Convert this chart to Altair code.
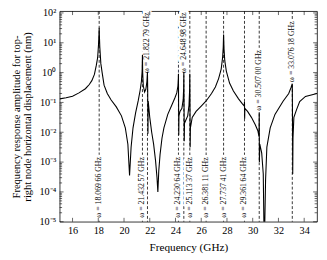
import altair as alt
import pandas as pd

# ---------------- data ----------------
freq = [15.0, 15.5, 16.0, 16.5, 17.0, 17.3, 17.5, 17.7, 17.85, 17.95, 18.02, 18.05, 18.07,
        18.09, 18.12, 18.2, 18.3, 18.45, 18.7, 19.0, 19.4, 19.8, 20.1, 20.3, 20.43, 20.55,
        20.7, 20.9, 21.1, 21.25, 21.35, 21.41, 21.432, 21.45, 21.5, 21.6, 21.7, 21.78, 21.822,
        21.84, 21.86, 21.88, 22.0, 22.15, 22.3, 22.45, 22.56, 22.63, 22.7, 22.8, 22.95, 23.1,
        23.4, 23.7, 23.95, 24.1, 24.19, 24.22, 24.23, 24.24, 24.255, 24.27, 24.35, 24.5, 24.6,
        24.635, 24.649, 24.66, 24.68, 24.7, 24.8, 24.95, 25.05, 25.095, 25.113, 25.125, 25.14,
        25.16, 25.3, 25.6, 26.0, 26.38, 26.8, 27.1, 27.35, 27.55, 27.66, 27.71, 27.737, 27.77,
        27.83, 27.95, 28.2, 28.5, 28.9, 29.2, 29.34, 29.362, 29.375, 29.39, 29.6, 29.9, 30.2,
        30.4, 30.49, 30.507, 30.52, 30.55, 30.7, 30.82, 30.9, 31.0, 31.1, 31.36, 31.73, 32.36,
        32.8, 32.98, 33.076, 33.09, 33.11, 33.13, 33.2, 33.4, 33.65, 34.1, 35.0]
amp_log10 = [-0.88, -0.84, -0.79, -0.68, -0.54, -0.40, -0.27, -0.06, 0.25, 0.5, 0.95, 1.25, 1.50,
             1.2, 0.85, 0.3, 0.0, -0.42, -0.70, -0.92, -1.15, -1.45, -1.85, -2.4, -3.45, -2.5,
             -1.85, -1.35, -0.95, -0.6, -0.3, 0.05, 0.6, 0.0, -0.45, -0.65, -0.55, -0.3, 0.03,
             -0.6, -2.05, -0.95, -1.5, -2.0, -2.4, -2.95, -3.5, -4.0, -3.3, -2.75, -2.2, -1.85,
             -1.4, -1.1, -0.85, -0.68, -0.45, -0.2, -0.04, -0.9, -2.1, -1.45, -1.3, -1.2, -0.9,
             -0.5, 0.03, -0.7, -2.3, -1.7, -1.6, -1.45, -1.1, -0.6, -0.04, -0.9, -2.5,
             -1.85, -1.5, -1.3, -1.12, -0.95, -0.7, -0.48, -0.2, 0.12, 0.5, 0.85, 1.28, 0.8,
             0.4, 0.05, -0.35, -0.62, -0.88, -1.05, -1.12, -0.98, -1.55, -1.2, -1.3, -1.5, -1.75,
             -1.95, -2.15, -1.33, -3.0, -2.4, -2.7, -3.4, -6.0, -3.6, -2.5, -1.85, -1.4, -0.96,
             -0.7, -0.5, -0.37, -1.4, -3.4, -2.2, -1.5, -1.25, -0.97, -0.8, -0.7]

mode_freq = [18.06966, 21.43257, 21.82279, 24.23064, 24.64898, 25.11337, 26.38111,
             27.73741, 29.36164, 30.50700, 33.07618]
mode_text = ["ω = 18.069\u200966 GHz", "ω = 21.432\u200957 GHz", "ω = 21.822\u200979 GHz",
             "ω = 24.230\u200964 GHz", "ω = 24.648\u200998 GHz", "ω = 25.113\u200937 GHz",
             "ω = 26.381\u200911 GHz", "ω = 27.737\u200941 GHz", "ω = 29.361\u200964 GHz",
             "ω = 30.507\u200900 GHz", "ω = 33.076\u200918 GHz"]
label_start_log10 = [-4.87, -4.87, -0.02, -4.87, -0.02, -4.87, -4.87, -4.87, -4.87, -1.28, -0.32]

x_ticks = [16, 18, 20, 22, 24, 26, 28, 30, 32, 34]
y_ticks = [1e-5, 1e-4, 1e-3, 1e-2, 1e-1, 1e0, 1e1, 1e2]
y_minor = [k * 10.0 ** e for e in range(-5, 2) for k in range(2, 10)]

# ---------------- tables ----------------
curve = pd.DataFrame({"f": freq, "a": [10 ** v for v in amp_log10]})
modes = pd.DataFrame({"f": mode_freq, "t": mode_text,
                      "a": [10 ** v for v in label_start_log10]})
ymaj = pd.DataFrame({"a": y_ticks})
ymin = pd.DataFrame({"a": y_minor})
xmaj = pd.DataFrame({"f": x_ticks})

W, H = 264, 216
FONT = "Liberation Serif"

xscale = alt.Scale(domain=[15, 35], nice=False, zero=False)
yscale = alt.Scale(type="log", domain=[1e-5, 10 ** 2.06], nice=False)

sup = {2: "²", 1: "¹", 0: "⁰", -1: "⁻¹", -2: "⁻²", -3: "⁻³", -4: "⁻⁴", -5: "⁻⁵"}
e = "round(log(datum.value)/LN10)"
expr = "''"
for k, s in sup.items():
    expr = f"({e} == {k} ? '{s}' : {expr})"
label_expr = "'10' + " + expr

xaxis = alt.Axis(values=x_ticks, ticks=False, domain=False, grid=False,
                 labelFont=FONT, labelFontSize=10.5, labelColor="black", labelPadding=4,
                 labelFlush=False, title="Frequency (GHz)", titleFont=FONT,
                 titleFontSize=11.5, titleFontWeight="normal", titleColor="black",
                 titlePadding=6)
yaxis = alt.Axis(values=y_ticks, labelExpr=label_expr, ticks=False, domain=False, grid=False,
                 labelFont=FONT, labelFontSize=10.5, labelColor="black", labelPadding=4,
                 labelFlush=False,
                 title=["Frequency response amplitude for top-",
                        "right node horizontal displacement (nm)"],
                 titleFont=FONT, titleFontSize=10.8, titleFontWeight="normal",
                 titleColor="black", titlePadding=6, titleLineHeight=11.5)


def X():
    return alt.X("f:Q", scale=xscale, axis=xaxis)


def Y():
    return alt.Y("a:Q", scale=yscale, axis=yaxis)


rules = alt.Chart(modes).mark_rule(color="black", strokeWidth=0.8,
                                   strokeDash=[3, 2]).encode(x=X())
halo = alt.Chart(modes).mark_text(angle=270, align="left", baseline="middle", font=FONT,
                                  fontSize=8, color="white", stroke="white",
                                  strokeWidth=5).encode(x=X(), y=Y(), text="t:N")
line = alt.Chart(curve).mark_line(color="black", strokeWidth=1.1, clip=True).encode(x=X(), y=Y())
text = alt.Chart(modes).mark_text(angle=270, align="left", baseline="middle", font=FONT,
                                  fontSize=8, color="black").encode(x=X(), y=Y(), text="t:N")

tick_style = dict(color="black", strokeWidth=0.6)
yl_maj = alt.Chart(ymaj).mark_rule(**tick_style).encode(y=Y(), x=alt.value(0), x2=alt.value(4))
yl_min = alt.Chart(ymin).mark_rule(**tick_style).encode(y=Y(), x=alt.value(0), x2=alt.value(2.5))
yr_maj = alt.Chart(ymaj).mark_rule(**tick_style).encode(y=Y(), x=alt.value(W), x2=alt.value(W - 4))
yr_min = alt.Chart(ymin).mark_rule(**tick_style).encode(y=Y(), x=alt.value(W), x2=alt.value(W - 2.5))
xb = alt.Chart(xmaj).mark_rule(**tick_style).encode(x=X(), y=alt.value(H), y2=alt.value(H - 4))
xt = alt.Chart(xmaj).mark_rule(**tick_style).encode(x=X(), y=alt.value(0), y2=alt.value(4))

chart = alt.layer(rules, halo, line, text, yl_maj, yl_min, yr_maj, yr_min, xb, xt).properties(
    width=W, height=H,
    padding={"left": 53, "top": 0, "right": 2, "bottom": 36},
    autosize=alt.AutoSizeParams(type="none"),
).configure_view(stroke="black", strokeWidth=0.8)

chart.save("out.html", embed_options={"renderer": "svg", "actions": False})
